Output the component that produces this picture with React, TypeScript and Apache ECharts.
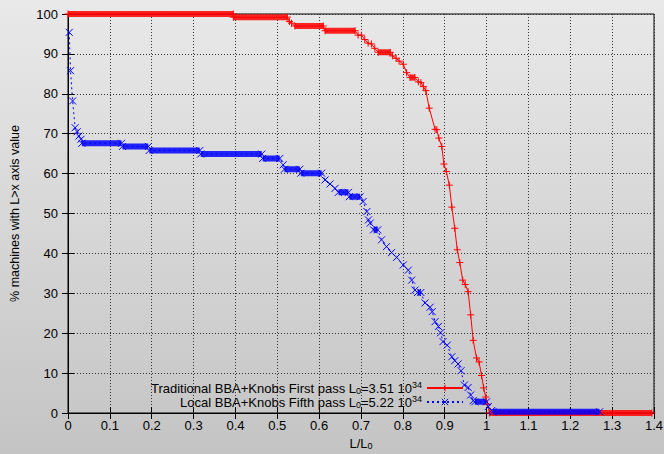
import React, { useEffect, useRef } from "react";
import * as echarts from "echarts";

// ---- data ----
const xTicks = [0, 1.4, 0.1];
const yTicks = [0, 100, 10];

const seriesNames = ["Traditional BBA+Knobs First pass", "Local BBA+Knobs Fifth pass"];
const lumis = ["3.51", "5.22"];

const redX = [0, 0.395, 0.395, 0.524, 0.529, 0.534, 0.542, 0.61, 0.614, 0.686, 0.693, 0.701, 0.709, 0.717, 0.725, 0.733, 0.741, 0.77, 0.775, 0.784, 0.791, 0.801, 0.809, 0.817, 0.829, 0.837, 0.843, 0.849, 0.855, 0.863, 0.877, 0.881, 0.886, 0.893, 0.898, 0.904, 0.911, 0.917, 0.924, 0.93, 0.936, 0.943, 0.949, 0.956, 0.962, 0.968, 0.976, 0.982, 0.988, 0.993, 0.998, 1.002, 1.007, 1.395];
const redY = [100, 100, 99.2, 99.2, 98.1, 97.7, 97.0, 97.0, 95.8, 95.8, 94.7, 94.7, 93.6, 92.7, 92.5, 91.4, 90.4, 90.4, 89.5, 88.9, 88.2, 87.4, 85.3, 84.1, 84.1, 83.0, 82.8, 81.8, 80.8, 76.4, 71.1, 71.0, 68.9, 66.8, 62.4, 60.5, 57.1, 51.6, 46.3, 40.9, 37.7, 33.3, 32.2, 30.4, 24.6, 18.2, 13.8, 12.8, 9.4, 6.3, 4.0, 2.2, 0, 0];

const blueX = [0.003, 0.006, 0.011, 0.017, 0.022, 0.026, 0.031, 0.033, 0.128, 0.13, 0.192, 0.194, 0.315, 0.317, 0.463, 0.465, 0.506, 0.514, 0.517, 0.554, 0.556, 0.606, 0.614, 0.626, 0.638, 0.646, 0.67, 0.672, 0.698, 0.705, 0.714, 0.718, 0.722, 0.73, 0.74, 0.749, 0.761, 0.773, 0.785, 0.801, 0.813, 0.821, 0.829, 0.835, 0.843, 0.853, 0.865, 0.87, 0.877, 0.885, 0.89, 0.896, 0.906, 0.917, 0.924, 0.932, 0.939, 0.947, 0.956, 0.962, 0.968, 0.972, 1.0, 1.004, 1.012, 1.015, 1.27];
const blueY = [95.4, 85.8, 78.2, 71.5, 70.5, 69.4, 68.6, 67.6, 67.6, 66.8, 66.8, 65.8, 65.8, 64.9, 64.9, 63.8, 63.8, 62.2, 61.1, 61.1, 60.1, 60.1, 58.4, 57.4, 56.3, 55.3, 55.3, 54.2, 54.2, 53.0, 50.5, 48.4, 47.6, 45.9, 45.9, 43.4, 41.7, 40.2, 39.0, 37.1, 35.8, 33.3, 30.8, 30.2, 30.2, 27.6, 26.5, 25.4, 22.9, 21.7, 20.1, 17.9, 17.0, 14.1, 13.1, 12.3, 10.6, 7.0, 6.4, 4.5, 3.1, 2.8, 2.8, 1.6, 0.6, 0.3, 0.3];

// plateaus (many machines with the same value): start, end, value
const redBandStart = [0, 0.395, 0.542, 0.614, 0.741, 0.817, 1.007];
const redBandEnd = [0.395, 0.524, 0.61, 0.686, 0.77, 0.829, 1.395];
const redBandY = [100, 99.2, 97.0, 95.8, 90.4, 84.1, 0];

const blueBandStart = [0.033, 0.13, 0.194, 0.317, 0.465, 0.517, 0.556, 0.646, 0.672, 0.73, 0.835, 0.972, 1.015];
const blueBandEnd = [0.128, 0.192, 0.315, 0.463, 0.506, 0.554, 0.606, 0.67, 0.698, 0.74, 0.843, 1.0, 1.27];
const blueBandY = [67.6, 66.8, 65.8, 64.9, 63.8, 61.1, 60.1, 55.3, 54.2, 45.9, 30.2, 2.8, 0.3];

const RED = "#ff0000";
const BLUE = "#0000ff";
const FONT = "Liberation Sans, Arial, Helvetica, sans-serif";

const zip = (xs: number[], ys: number[]) => xs.map((x, i) => [x, ys[i]]);
const bands = (s: number[], e: number[], y: number[]) => {
  const out: any[] = [];
  s.forEach((x0, i) => {
    out.push([x0, y[i]], [e[i], y[i]], [e[i], "-"]);
  });
  return out;
};

export default function App() {
  const ref = useRef<HTMLDivElement>(null);
  useEffect(() => {
    if (!ref.current) return;
    const chart = echarts.init(ref.current, undefined, { renderer: "svg" });
    const gridLine = { show: true, lineStyle: { color: "#333", type: [1, 2] as any, width: 1 } };
    const plusSym = "path://M0,5L10,5M5,0L5,10";
    const crossSym = "path://M0,0L10,10M10,0L0,10";
    const richStyles = {
      sub: { fontSize: 9, lineHeight: 9, fontFamily: FONT, color: "#000", padding: [5, 0, 0, 0] },
      sup: { fontSize: 9, lineHeight: 9, fontFamily: FONT, color: "#000", padding: [0, 0, 7, 0] },
    };
    chart.setOption({
      animation: false,
      backgroundColor: "transparent",
      grid: {
        left: 68, right: 10, top: 14, bottom: 41, show: true, borderColor: "#000", borderWidth: 1,
        backgroundColor: "transparent", containLabel: false, outerBoundsMode: "none",
      },
      legend: {
        data: seriesNames,
        orient: "vertical",
        align: "right",
        right: 200,
        top: 380,
        itemWidth: 36,
        itemHeight: 8,
        itemGap: -2,
        padding: 0,
        itemStyle: { borderWidth: 1 },
        textStyle: { fontSize: 13, lineHeight: 13, fontFamily: FONT, color: "#000", rich: richStyles },
        formatter: (name: string) => {
          const i = seriesNames.indexOf(name);
          return `${name} L{sub|0}=${lumis[i]} 10{sup|34}`;
        },
      },
      xAxis: [
        {
          type: "value",
          min: xTicks[0],
          max: xTicks[1],
          interval: xTicks[2],
          name: "L/L{sub|0}",
          nameLocation: "middle",
          nameGap: 22,
          nameTextStyle: { fontSize: 13, lineHeight: 13, fontFamily: FONT, color: "#000", rich: richStyles },
          axisLine: { show: true, lineStyle: { color: "#000" } },
          axisTick: { show: true, inside: true, length: 6, lineStyle: { color: "#000" } },
          axisLabel: { fontSize: 13, fontFamily: FONT, color: "#000", margin: 6 },
          splitLine: gridLine,
        },
        {
          type: "value",
          position: "top",
          min: xTicks[0],
          max: xTicks[1],
          interval: xTicks[2],
          axisLine: { show: true, lineStyle: { color: "#000" } },
          axisTick: { show: true, inside: true, length: 6, lineStyle: { color: "#000" } },
          axisLabel: { show: false },
          splitLine: { show: false },
        },
      ],
      yAxis: [
        {
          type: "value",
          min: yTicks[0],
          max: yTicks[1],
          interval: yTicks[2],
          name: "% machines with L>x axis value",
          nameLocation: "middle",
          nameGap: 47,
          nameTextStyle: { fontSize: 12.5, fontFamily: FONT, color: "#000" },
          axisLine: { show: true, lineStyle: { color: "#000" } },
          axisTick: { show: true, inside: true, length: 6, lineStyle: { color: "#000" } },
          axisLabel: { fontSize: 13, fontFamily: FONT, color: "#000", margin: 10 },
          splitLine: gridLine,
        },
        {
          type: "value",
          position: "right",
          min: yTicks[0],
          max: yTicks[1],
          interval: yTicks[2],
          axisLine: { show: true, lineStyle: { color: "#000" } },
          axisTick: { show: true, inside: true, length: 6, lineStyle: { color: "#000" } },
          axisLabel: { show: false },
          splitLine: { show: false },
        },
      ],
      series: [
        {
          name: "redBand",
          type: "line",
          data: bands(redBandStart, redBandEnd, redBandY),
          symbol: "none",
          silent: true,
          clip: false,
          lineStyle: { color: RED, width: 6, opacity: 0.85, cap: "butt" },
        },
        {
          name: seriesNames[0],
          type: "line",
          data: zip(redX, redY),
          symbol: plusSym,
          symbolSize: 7,
          showAllSymbol: true,
          clip: false,
          color: RED,
          itemStyle: { color: RED, borderColor: RED, borderWidth: 1 },
          lineStyle: { color: RED, width: 1 },
        },
        {
          name: "blueBand",
          type: "line",
          data: bands(blueBandStart, blueBandEnd, blueBandY),
          symbol: "none",
          silent: true,
          clip: false,
          lineStyle: { color: BLUE, width: 6, opacity: 0.85, cap: "butt" },
        },
        {
          name: seriesNames[1],
          type: "line",
          data: zip(blueX, blueY),
          symbol: crossSym,
          symbolSize: 7,
          showAllSymbol: true,
          clip: false,
          color: BLUE,
          itemStyle: { color: BLUE, borderColor: BLUE, borderWidth: 1 },
          lineStyle: { color: BLUE, width: 1, type: [2, 3] },
        },
      ],
    });
    return () => chart.dispose();
  }, []);
  return (
    <div
      style={{
        position: "fixed",
        left: 0,
        top: 0,
        width: 664,
        height: 454,
        background: "linear-gradient(to bottom, #e9e9e9, #c4c4c4)",
      }}
    >
      <div ref={ref} style={{ width: 664, height: 454 }} />
    </div>
  );
}
